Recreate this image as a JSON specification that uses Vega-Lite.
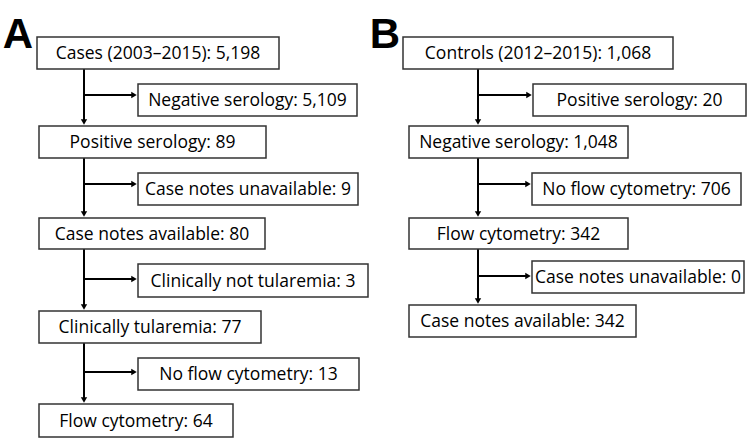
{
  "$schema": "https://vega.github.io/schema/vega-lite/v6.json",
  "width": 750,
  "height": 445,
  "autosize": {"type": "fit", "contains": "padding"},
  "padding": 0,
  "background": "white",
  "config": {"view": {"stroke": null}},
  "datasets": {
    "boxes": [
      {"panel": "A", "x1": 37, "x2": 279, "y1": 37, "y2": 69, "label": "Cases (2003–2015): 5,198"},
      {"panel": "A", "x1": 138, "x2": 357, "y1": 84, "y2": 116, "label": "Negative serology: 5,109"},
      {"panel": "A", "x1": 39, "x2": 266, "y1": 126, "y2": 158, "label": "Positive serology: 89"},
      {"panel": "A", "x1": 138, "x2": 358, "y1": 173, "y2": 205, "label": "Case notes unavailable: 9"},
      {"panel": "A", "x1": 39, "x2": 265, "y1": 218, "y2": 249, "label": "Case notes available: 80"},
      {"panel": "A", "x1": 138, "x2": 368, "y1": 264, "y2": 297, "label": "Clinically not tularemia: 3"},
      {"panel": "A", "x1": 39, "x2": 261, "y1": 311, "y2": 343, "label": "Clinically tularemia: 77"},
      {"panel": "A", "x1": 138, "x2": 359, "y1": 358, "y2": 390, "label": "No flow cytometry: 13"},
      {"panel": "A", "x1": 39, "x2": 233, "y1": 404, "y2": 437, "label": "Flow cytometry: 64"},
      {"panel": "B", "x1": 403, "x2": 673, "y1": 37, "y2": 69, "label": "Controls (2012–2015): 1,068"},
      {"panel": "B", "x1": 533, "x2": 746, "y1": 84, "y2": 116, "label": "Positive serology: 20"},
      {"panel": "B", "x1": 409, "x2": 628, "y1": 126, "y2": 158, "label": "Negative serology: 1,048"},
      {"panel": "B", "x1": 532, "x2": 741, "y1": 173, "y2": 205, "label": "No flow cytometry: 706"},
      {"panel": "B", "x1": 409, "x2": 628, "y1": 218, "y2": 249, "label": "Flow cytometry: 342"},
      {"panel": "B", "x1": 532, "x2": 744, "y1": 261, "y2": 293, "label": "Case notes unavailable: 0"},
      {"panel": "B", "x1": 409, "x2": 636, "y1": 305, "y2": 337, "label": "Case notes available: 342"}
    ],
    "segments": [
      {"x1": 84, "x2": 84, "y1": 69, "y2": 123},
      {"x1": 84, "x2": 134, "y1": 95, "y2": 95},
      {"x1": 84, "x2": 84, "y1": 158, "y2": 215},
      {"x1": 84, "x2": 134, "y1": 184, "y2": 184},
      {"x1": 84, "x2": 84, "y1": 249, "y2": 308},
      {"x1": 84, "x2": 134, "y1": 279, "y2": 279},
      {"x1": 84, "x2": 84, "y1": 343, "y2": 401},
      {"x1": 84, "x2": 134, "y1": 372, "y2": 372},
      {"x1": 478, "x2": 478, "y1": 69, "y2": 123},
      {"x1": 478, "x2": 529, "y1": 95, "y2": 95},
      {"x1": 478, "x2": 478, "y1": 158, "y2": 215},
      {"x1": 478, "x2": 528, "y1": 184, "y2": 184},
      {"x1": 478, "x2": 478, "y1": 249, "y2": 302},
      {"x1": 478, "x2": 528, "y1": 276, "y2": 276}
    ],
    "heads": [
      {"x": 84, "y": 122, "dir": "down"},
      {"x": 134, "y": 95, "dir": "right"},
      {"x": 84, "y": 214, "dir": "down"},
      {"x": 134, "y": 184, "dir": "right"},
      {"x": 84, "y": 307, "dir": "down"},
      {"x": 134, "y": 279, "dir": "right"},
      {"x": 84, "y": 400, "dir": "down"},
      {"x": 134, "y": 372, "dir": "right"},
      {"x": 478, "y": 122, "dir": "down"},
      {"x": 529, "y": 95, "dir": "right"},
      {"x": 478, "y": 214, "dir": "down"},
      {"x": 528, "y": 184, "dir": "right"},
      {"x": 478, "y": 301, "dir": "down"},
      {"x": 528, "y": 276, "dir": "right"}
    ],
    "letters": [
      {"x": 18, "y": 48, "letter": "A"},
      {"x": 385, "y": 48, "letter": "B"}
    ]
  },
  "layer": [
    {
      "data": {"name": "segments"},
      "mark": {"type": "rule", "color": "black", "strokeWidth": 2},
      "encoding": {
        "x": {"field": "x1", "type": "quantitative", "scale": {"domain": [0, 750], "nice": false, "zero": false}, "axis": null},
        "x2": {"field": "x2"},
        "y": {"field": "y1", "type": "quantitative", "scale": {"domain": [445, 0], "nice": false, "zero": false}, "axis": null},
        "y2": {"field": "y2"}
      }
    },
    {
      "data": {"name": "heads"},
      "mark": {"type": "point", "filled": true, "color": "black", "opacity": 1, "size": 40},
      "encoding": {
        "x": {"field": "x", "type": "quantitative"},
        "y": {"field": "y", "type": "quantitative"},
        "shape": {"field": "dir", "type": "nominal", "scale": {"domain": ["down", "right"], "range": ["triangle-down", "triangle-right"]}, "legend": null}
      }
    },
    {
      "data": {"name": "boxes"},
      "mark": {"type": "rect", "fill": "white", "stroke": "#333333", "strokeWidth": 1.5},
      "encoding": {
        "x": {"field": "x1", "type": "quantitative"},
        "x2": {"field": "x2"},
        "y": {"field": "y1", "type": "quantitative"},
        "y2": {"field": "y2"}
      }
    },
    {
      "data": {"name": "boxes"},
      "transform": [
        {"calculate": "(datum.x1 + datum.x2) / 2", "as": "xc"},
        {"calculate": "(datum.y1 + datum.y2) / 2", "as": "yc"}
      ],
      "mark": {"type": "text", "font": "Open Sans", "fontSize": 17.5, "color": "black", "align": "center", "baseline": "middle", "dy": 1},
      "encoding": {
        "x": {"field": "xc", "type": "quantitative"},
        "y": {"field": "yc", "type": "quantitative"},
        "text": {"field": "label"}
      }
    },
    {
      "data": {"name": "letters"},
      "mark": {"type": "text", "font": "Liberation Sans", "fontWeight": "bold", "fontSize": 42, "color": "black", "align": "center", "baseline": "alphabetic"},
      "encoding": {
        "x": {"field": "x", "type": "quantitative"},
        "y": {"field": "y", "type": "quantitative"},
        "text": {"field": "letter"}
      }
    }
  ]
}
